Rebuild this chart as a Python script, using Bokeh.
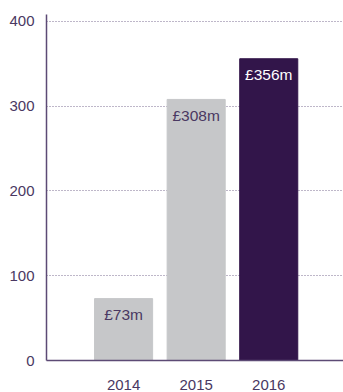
from bokeh.plotting import figure
from bokeh.models import FixedTicker, ColumnDataSource, Range1d
from bokeh.core.properties import value
from bokeh.embed import file_html
from bokeh.resources import INLINE

years = ["2014", "2015", "2016"]
values = [73, 308, 356]
labels = ["£73m", "£308m", "£356m"]
bar_colors = ["#c6c7c9", "#c6c7c9", "#32154a"]
label_colors = ["#4a3862", "#4a3862", "#ffffff"]
y_ticks = [0, 100, 200, 300, 400]

xpos = [i + 1 for i in range(len(years))]
src = ColumnDataSource(dict(x=xpos, top=values, color=bar_colors,
                            label=labels, lcolor=label_colors))

FONT = "Liberation Sans"
TXT = "#4a3862"

p = figure(width=343, height=392, output_backend="svg", toolbar_location=None,
           x_range=Range1d(-0.062, 4.03), y_range=Range1d(0, 408.2),
           min_border_left=46, min_border_right=0, min_border_top=14,
           min_border_bottom=29)
p.outline_line_color = None
p.background_fill_color = "white"
p.border_fill_color = "white"

p.vbar(x="x", top="top", width=0.8, bottom=0, color="color", source=src)
p.text(x="x", y="top", text="label", text_color="lcolor", source=src,
       text_align="center", text_baseline="middle", y_offset=16,
       text_font=value(FONT), text_font_size="15.5px")

p.xgrid.visible = False
p.ygrid.grid_line_color = "#7d6f92"
p.ygrid.grid_line_dash = "1 2"
p.ygrid.grid_line_width = 1
p.ygrid.ticker = FixedTicker(ticks=y_ticks)

p.yaxis.ticker = FixedTicker(ticks=y_ticks)
p.xaxis.ticker = FixedTicker(ticks=xpos)
p.xaxis.major_label_overrides = {x: y for x, y in zip(xpos, years)}

for ax in (p.xaxis, p.yaxis):
    ax.axis_line_color = "#5c4a75"
    ax.axis_line_width = 1.5
    ax.major_tick_line_color = None
    ax.minor_tick_line_color = None
    ax.major_label_text_color = TXT
    ax.major_label_text_font = FONT
    ax.major_label_text_font_size = "15px"
p.yaxis.major_label_standoff = 6
p.xaxis.major_label_standoff = 13

open("out.html", "w").write(file_html(p, INLINE))
